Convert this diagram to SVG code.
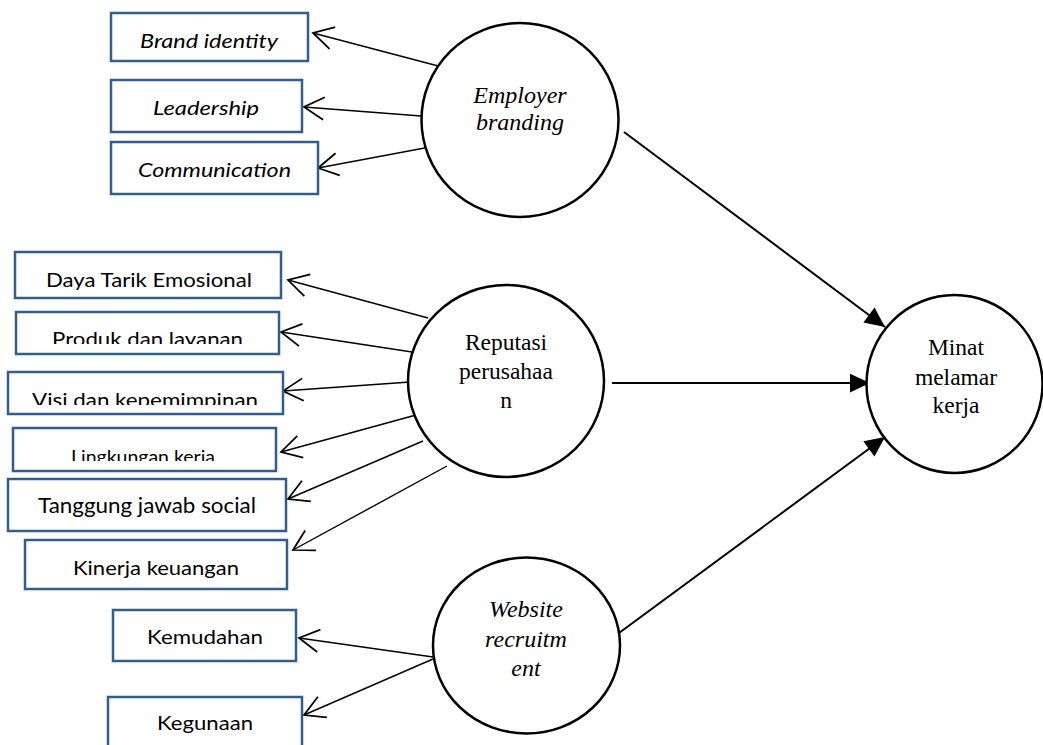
<svg xmlns="http://www.w3.org/2000/svg" width="1043" height="745" viewBox="0 0 1043 745">
<style>
.box{fill:#fff;stroke:#325d8f;stroke-width:2.5}
.lbl{font-family:Lato,"Liberation Sans",sans-serif;font-size:20px;fill:#000;text-anchor:start}
.it{font-style:italic}
.circ{fill:#fff;stroke:#000;stroke-width:2.5}
.ct{font-family:"Liberation Serif","Times New Roman",serif;font-size:23.5px;fill:#000;text-anchor:middle}
.ind{stroke:#000;stroke-width:1.4;fill:none;marker-end:url(#open)}
.str{stroke:#000;stroke-width:2;fill:none;marker-end:url(#solid)}
</style>
<defs>
<marker id="open" markerUnits="userSpaceOnUse" markerWidth="30" markerHeight="30" viewBox="-20 -12 24 24" refX="0" refY="0" orient="auto">
<path d="M-16,-9 L0,0 L-16,9" fill="none" stroke="#000" stroke-width="1.4"/>
</marker>
<marker id="solid" markerUnits="userSpaceOnUse" markerWidth="30" markerHeight="30" viewBox="-20 -12 24 24" refX="0" refY="0" orient="auto">
<path d="M0,0 L-16,-7.5 L-16,7.5 Z" fill="#000"/>
</marker>
<clipPath id="c5"><rect x="16" y="312" width="263" height="32"/></clipPath>
<clipPath id="c6"><rect x="8" y="372" width="275" height="33"/></clipPath>
<clipPath id="c7"><rect x="13" y="428" width="263" height="33"/></clipPath>
</defs>
<rect width="1043" height="745" fill="#fff"/>

<g id="connectors">
<line class="ind" x1="442" y1="67" x2="313" y2="33"/>
<line class="ind" x1="421" y1="116" x2="304" y2="107"/>
<line class="ind" x1="430" y1="147" x2="318" y2="168"/>
<line class="ind" x1="428" y1="318" x2="288" y2="280"/>
<line class="ind" x1="412" y1="352" x2="281" y2="332"/>
<line class="ind" x1="410" y1="382" x2="283" y2="391"/>
<line class="ind" x1="416" y1="415" x2="281" y2="452"/>
<line class="ind" x1="423" y1="441" x2="288" y2="499"/>
<line class="ind" x1="447" y1="466" x2="293" y2="550"/>
<line class="ind" x1="433" y1="657" x2="299" y2="638"/>
<line class="ind" x1="433" y1="659" x2="304" y2="715"/>
<line class="str" x1="624" y1="132" x2="885" y2="327"/>
<line class="str" x1="612" y1="383" x2="870" y2="383"/>
<line class="str" x1="619" y1="633" x2="885" y2="437"/>
</g>

<g id="box-brand-identity"><rect class="box" x="111" y="13" width="197" height="48"/><text class="lbl it" x="140" y="48" textLength="138" lengthAdjust="spacingAndGlyphs">Brand identity</text></g>
<g id="box-leadership"><rect class="box" x="111" y="80" width="191" height="52"/><text class="lbl it" x="153" y="115" textLength="106" lengthAdjust="spacingAndGlyphs">Leadership</text></g>
<g id="box-communication"><rect class="box" x="111" y="142" width="207" height="52"/><text class="lbl it" x="138" y="177" textLength="153" lengthAdjust="spacingAndGlyphs">Communication</text></g>

<g id="box-daya-tarik"><rect class="box" x="15" y="252" width="266" height="46"/><text class="lbl" x="46" y="287" textLength="206" lengthAdjust="spacingAndGlyphs">Daya Tarik Emosional</text></g>
<g id="box-produk"><rect class="box" x="16" y="312" width="263" height="42"/><text class="lbl" x="52" y="346" textLength="191" lengthAdjust="spacingAndGlyphs" clip-path="url(#c5)">Produk dan layanan</text></g>
<g id="box-visi"><rect class="box" x="8" y="372" width="275" height="42"/><text class="lbl" x="32" y="407" textLength="226" lengthAdjust="spacingAndGlyphs" clip-path="url(#c6)">Visi dan kepemimpinan</text></g>
<g id="box-lingkungan"><rect class="box" x="13" y="428" width="263" height="43"/><text class="lbl" x="71" y="463" font-size="18" style="font-size:18px" textLength="144" lengthAdjust="spacingAndGlyphs" clip-path="url(#c7)">Lingkungan kerja</text></g>
<g id="box-tanggung-jawab"><rect class="box" x="8" y="479" width="278" height="52"/><text class="lbl" x="38" y="513" style="font-size:21px" textLength="218" lengthAdjust="spacingAndGlyphs">Tanggung jawab social</text></g>
<g id="box-kinerja"><rect class="box" x="25" y="540" width="262" height="49"/><text class="lbl" x="73" y="575" textLength="166" lengthAdjust="spacingAndGlyphs">Kinerja keuangan</text></g>
<g id="box-kemudahan"><rect class="box" x="113" y="610" width="183" height="51"/><text class="lbl" x="147" y="644" textLength="116" lengthAdjust="spacingAndGlyphs">Kemudahan</text></g>
<g id="box-kegunaan"><rect class="box" x="108" y="697" width="194" height="60"/><text class="lbl" x="157" y="730" textLength="96" lengthAdjust="spacingAndGlyphs">Kegunaan</text></g>

<g id="node-employer-branding"><ellipse class="circ" cx="520" cy="120" rx="98.5" ry="97"/><text class="ct" font-style="italic" style="font-size:24px"><tspan x="520" y="103">Employer</tspan><tspan x="520" y="130">branding</tspan></text></g>
<g id="node-reputasi"><ellipse class="circ" cx="506" cy="381" rx="98" ry="96"/><text class="ct"><tspan x="506" y="350">Reputasi</tspan><tspan x="506" y="379">perusahaa</tspan><tspan x="506" y="408">n</tspan></text></g>
<g id="node-website"><ellipse class="circ" cx="526.5" cy="645.5" rx="93.5" ry="88"/><text class="ct" font-style="italic" style="font-size:24px"><tspan x="526" y="617">Website</tspan><tspan x="526" y="647">recruitm</tspan><tspan x="526" y="676">ent</tspan></text></g>
<g id="node-minat"><ellipse class="circ" cx="954.5" cy="384" rx="88" ry="89"/><text class="ct"><tspan x="956" y="355">Minat</tspan><tspan x="956" y="385">melamar</tspan><tspan x="956" y="413">kerja</tspan></text></g>
</svg>
